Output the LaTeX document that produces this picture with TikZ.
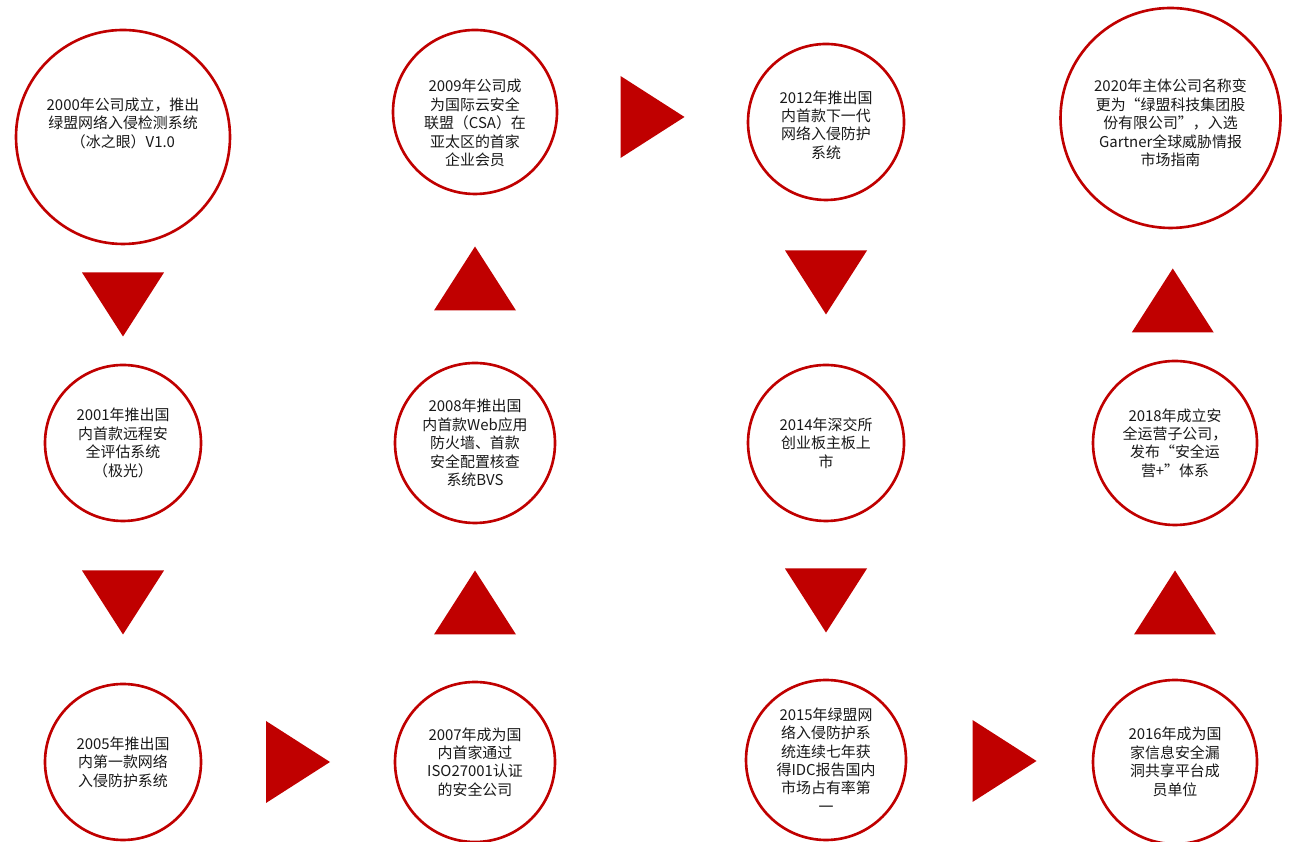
\documentclass[tikz,border=0pt]{standalone}
\usepackage{fontspec}
\setmainfont{Noto Sans CJK SC}
\usepackage{tikz}
\usetikzlibrary{calc}
\definecolor{milestonered}{RGB}{192,0,0}

\tikzset{
    pics/wedge/.style = {code = {
        \fill[milestonered] (-0.82, 0.64) -- (0.82, 0.64) -- (0, -0.64) -- cycle;
    }}
}

\begin{document}
\begin{tikzpicture}[
        ring/.style = {circle, draw = milestonered, fill = white, line width = 1.5pt, minimum size = #1},
        ring/.default = 3.12cm,
        event/.style = {align = center, font = \fontsize{8.5}{10.5}\selectfont, text = black!90}
    ]
    \useasboundingbox (0, 0) rectangle (26.02, 16.84);

    % top row
    \node[ring = 4.28cm] (c2000) at (2.46, 14.10) {};
    \node[ring = 3.28cm] (c2009) at (9.50, 14.60) {};
    \node[ring = 3.12cm] (c2012) at (16.52, 14.40) {};
    \node[ring = 4.40cm] (c2020) at (23.41, 14.48) {};
    % middle row
    \node[ring = 3.12cm] (c2001) at (2.46, 7.98) {};
    \node[ring = 3.20cm] (c2008) at (9.50, 7.98) {};
    \node[ring = 3.12cm] (c2014) at (16.52, 7.98) {};
    \node[ring = 3.28cm] (c2018) at (23.50, 7.98) {};
    % bottom row
    \node[ring = 3.12cm] (c2005) at (2.46, 1.60) {};
    \node[ring = 3.20cm] (c2007) at (9.50, 1.60) {};
    \node[ring = 3.20cm] (c2015) at (16.52, 1.64) {};
    \node[ring = 3.28cm] (c2016) at (23.50, 1.60) {};

    \node[event] (t2000) at ($(c2000) + (0, 0.28)$) {2000年公司成立，推出\\绿盟网络入侵检测系统\\（冰之眼）V1.0};
    \node[event] (t2009) at ($(c2009) + (0, -0.22)$) {2009年公司成\\为国际云安全\\联盟（CSA）在\\亚太区的首家\\企业会员};
    \node[event] (t2012) at ($(c2012) + (0, -0.06)$) {2012年推出国\\内首款下一代\\网络入侵防护\\系统};
    \node[event] (t2020) at ($(c2020) + (0, -0.10)$) {2020年主体公司名称变\\更为“绿盟科技集团股\\份有限公司”，入选\\Gartner全球威胁情报\\市场指南};
    \node[event] (t2001) at (c2001) {2001年推出国\\内首款远程安\\全评估系统\\（极光）};
    \node[event] (t2008) at (c2008) {2008年推出国\\内首款Web应用\\防火墙、首款\\安全配置核查\\系统BVS};
    \node[event] (t2014) at (c2014) {2014年深交所\\创业板主板上\\市};
    \node[event] (t2018) at (c2018) {2018年成立安\\全运营子公司，\\发布“安全运\\营+”体系};
    \node[event] (t2005) at (c2005) {2005年推出国\\内第一款网络\\入侵防护系统};
    \node[event] (t2007) at (c2007) {2007年成为国\\内首家通过\\ISO27001认证\\的安全公司};
    \node[event] (t2015) at (c2015) {2015年绿盟网\\络入侵防护系\\统连续七年获\\得IDC报告国内\\市场占有率第\\一};
    \node[event] (t2016) at (c2016) {2016年成为国\\家信息安全漏\\洞共享平台成\\员单位};

    % arrows between the milestones
    \pic at ($(c2000.south)!0.5!(c2001.north)$) {wedge};
    \pic at ($(c2001.south)!0.5!(c2005.north)$) {wedge};
    \pic[rotate = 90] at ($(c2005.east)!0.5!(c2007.west)$) {wedge};
    \pic[rotate = 180] at ($(c2007.north)!0.5!(c2008.south)$) {wedge};
    \pic[rotate = 180] at ($(c2008.north)!0.5!(c2009.south)$) {wedge};
    \pic[rotate = 90] at ($(c2009.east)!0.5!(c2012.west)$) {wedge};
    \pic at ($(c2012.south)!0.5!(c2014.north)$) {wedge};
    \pic at ($(c2014.south)!0.5!(c2015.north)$) {wedge};
    \pic[rotate = 90] at ($(c2015.east)!0.5!(c2016.west) + (0.1, 0)$) {wedge};
    \pic[rotate = 180] at ($(c2016.north)!0.5!(c2018.south)$) {wedge};
    \pic[rotate = 180] at ($(c2018.north)!0.5!(c2020.south) + (0, -0.12)$) {wedge};
\end{tikzpicture}
\end{document}
